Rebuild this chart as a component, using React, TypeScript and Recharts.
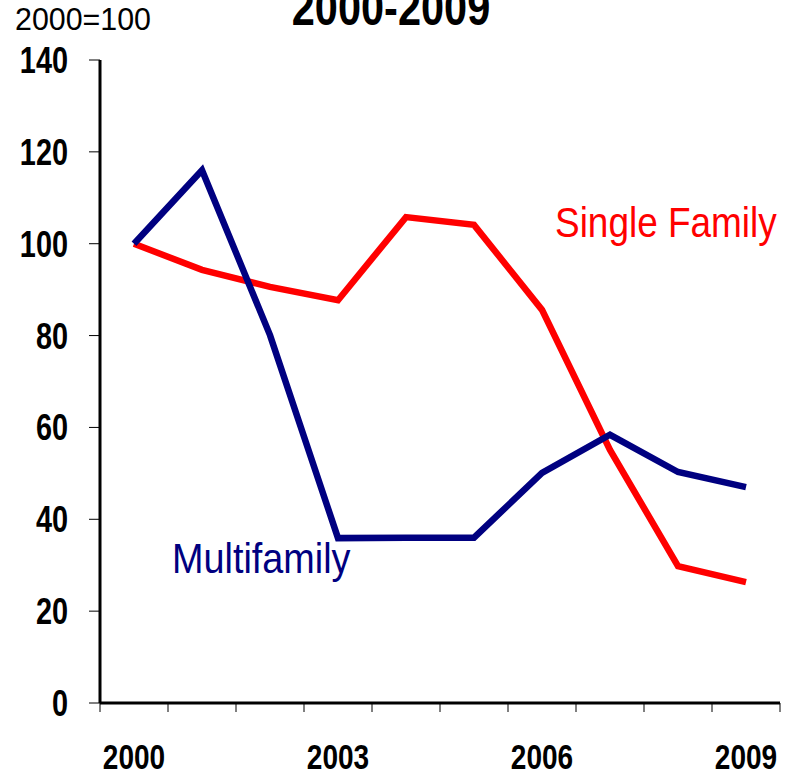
import { LineChart, Line, XAxis, YAxis } from 'recharts';

const years = [2000, 2001, 2002, 2003, 2004, 2005, 2006, 2007, 2008, 2009];
const singleFamily = [100, 94.3, 90.6, 87.7, 105.8, 104.1, 85.6, 55.1, 29.8, 26.3];
const multifamily = [100, 116, 80.1, 35.9, 36, 36, 50.1, 58.4, 50.3, 47];
const yTicks = [0, 20, 40, 60, 80, 100, 120, 140];
const xLabels = [2000, 2003, 2006, 2009];
const xBoundaries = [1999.5, 2000.5, 2001.5, 2002.5, 2003.5, 2004.5, 2005.5, 2006.5, 2007.5, 2008.5, 2009.5];

// no narrow font installed, so Liberation Sans is squeezed horizontally
const FONT = "'Liberation Sans', Arial, sans-serif";
const W = 797;
const H = 774;
const PLOT_LEFT = 100;
const PLOT_RIGHT = 780;
const HALF_STEP = (PLOT_RIGHT - PLOT_LEFT) / years.length / 2;

const data = years.map((year, i) => ({
  year,
  single: singleFamily[i],
  multi: multifamily[i],
}));

const Narrow = ({ x, y, anchor, size, scale, bold, fill, children }: any) => (
  <text
    transform={`translate(${x},${y}) scale(${scale},1)`}
    textAnchor={anchor}
    fontFamily={FONT}
    fontWeight={bold ? 'bold' : 'normal'}
    fontSize={size}
    fill={fill || '#000'}
  >
    {children}
  </text>
);

const XTick = (props: any) => {
  const { x, y, payload } = props;
  const year = payload.value + 0.5;
  if (!xLabels.includes(year)) return null;
  return (
    <Narrow x={x + HALF_STEP} y={y + 55} anchor="middle" size={35} scale={0.8} bold>
      {year}
    </Narrow>
  );
};

const YTick = (props: any) => {
  const { x, y, payload } = props;
  return (
    <Narrow x={x} y={y + 13} anchor="end" size={37} scale={0.78} bold>
      {payload.value}
    </Narrow>
  );
};

export default function App() {
  return (
    <div style={{ position: 'absolute', left: 0, top: 0, width: W, height: H, background: '#fff' }}>
      <LineChart
        width={W}
        height={H}
        data={data}
        margin={{ top: 60, right: W - PLOT_RIGHT, bottom: 0, left: 0 }}
      >
        <XAxis
          xAxisId="main"
          dataKey="year"
          type="number"
          domain={[1999.5, 2009.5]}
          ticks={xBoundaries}
          interval={0}
          height={71}
          axisLine={{ stroke: '#000', strokeWidth: 3 }}
          tickLine={{ stroke: '#000', strokeWidth: 1 }}
          tickSize={9}
          tick={<XTick />}
        />
        <XAxis
          xAxisId="top"
          orientation="top"
          dataKey="year"
          type="number"
          domain={[1999.5, 2009.5]}
          height={0}
          tick={false}
          tickLine={false}
          axisLine={{ stroke: '#000', strokeWidth: 2 }}
        />
        <YAxis
          yAxisId="main"
          domain={[0, 140]}
          ticks={yTicks}
          width={PLOT_LEFT}
          axisLine={{ stroke: '#000', strokeWidth: 3 }}
          tickLine={{ stroke: '#000', strokeWidth: 1 }}
          tickSize={11}
          tickMargin={21}
          tick={<YTick />}
        />
        <YAxis
          yAxisId="right"
          orientation="right"
          domain={[0, 140]}
          width={0}
          tick={false}
          tickLine={false}
          axisLine={{ stroke: '#000', strokeWidth: 3 }}
        />
        <Line
          xAxisId="main"
          yAxisId="main"
          dataKey="single"
          stroke="#ff0000"
          strokeWidth={6.5}
          dot={false}
          isAnimationActive={false}
        />
        <Line
          xAxisId="main"
          yAxisId="main"
          dataKey="multi"
          stroke="#000080"
          strokeWidth={6.5}
          dot={false}
          isAnimationActive={false}
        />
      </LineChart>
      <svg width={W} height={H} style={{ position: 'absolute', left: 0, top: 0, pointerEvents: 'none' }}>
        <Narrow x={391} y={25} anchor="middle" size={50} scale={0.83} bold>
          2000-2009
        </Narrow>
        <Narrow x={15} y={30} anchor="start" size={31} scale={0.98}>
          2000=100
        </Narrow>
        <Narrow x={555} y={237} anchor="start" size={42} scale={0.88} fill="#ff0000">
          Single Family
        </Narrow>
        <Narrow x={172} y={573} anchor="start" size={42} scale={0.9} fill="#000080">
          Multifamily
        </Narrow>
      </svg>
    </div>
  );
}
